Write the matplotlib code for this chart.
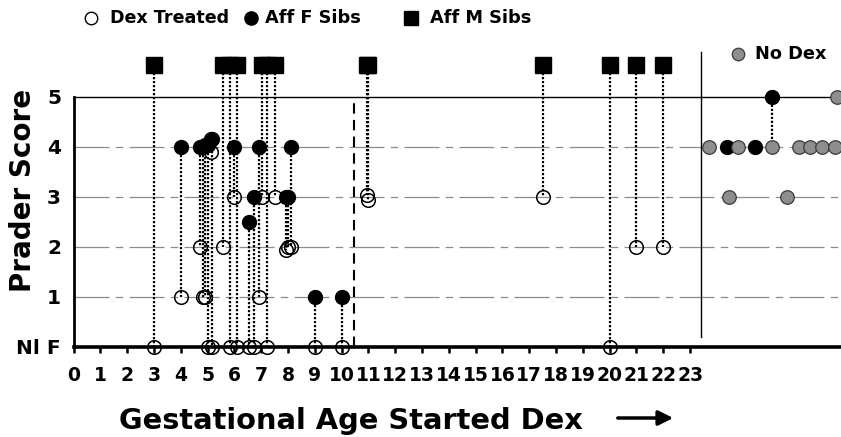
import matplotlib
matplotlib.use('Agg')
import matplotlib.pyplot as plt
from matplotlib.lines import Line2D

plt.rcParams['font.family'] = ['DejaVu Sans']
plt.rcParams['font.weight'] = 'bold'

# ---------------- data ----------------
# Dex-treated subjects paired with an affected female sib
fem_x = [4.0, 4.72, 4.82, 4.92, 5.0, 5.12, 5.17, 6.0, 6.55, 6.72, 6.93, 7.93, 8.0, 8.12, 9.0, 10.0]
fem_sib = [4, 4, 4, 4.05, 4.05, 4.15, 4.15, 4, 2.5, 3, 4, 3, 3, 4, 1, 1]
fem_dex = [1, 2, 1, 1, 0, 3.9, 0, 3, 0, 0, 1, 1.95, 2.0, 2.0, 0, 0]

# Dex-treated subjects paired with an affected male sib
male_x = [3.0, 5.57, 5.85, 6.08, 7.02, 7.2, 7.5, 10.95, 11.0, 17.5, 20.0, 21.0, 22.0]
male_dex = [0, 2, 0, 0, 3, 0, 3, 3.05, 2.95, 3, 0, 2, 2]

# No-dex (untreated) affected females and untreated affected female sibs
nodex_x = [23.72, 24.77, 26.07, 27.08, 27.48, 27.91, 28.41, 24.47, 26.6, 28.47]
nodex_y = [4, 4, 4, 4, 4, 4, 4, 3, 3, 5]
nodex_sib_x = [24.37, 25.42, 26.07]
nodex_sib_y = [4, 4, 5]
nodex_pair_x = [26.07]
nodex_pair_from = [4]
nodex_pair_to = [5]

x_ticks = list(range(24))
y_ticks = [0, 1, 2, 3, 4, 5]
y_ticklabels = ['Nl F', '1', '2', '3', '4', '5']

# ---------------- layout ----------------
W, H = 841, 437
def fx(px):
    return px / W
def fy(py):
    return 1 - py / H

fig = plt.figure(figsize=(8.41, 4.37), dpi=100)
ax = fig.add_axes([73.6 / W, fy(347), (W - 73.6) / W, (347 - 47) / H])
ax.set_xlim(0, 28.63)
ax.set_ylim(0, 6.0)

MALE_ROW = 5.65
DEX_SPLIT = 10.46
NODEX_SPLIT = 23.4

# gridlines
for yv in [1, 2, 3, 4]:
    ax.axhline(yv, color='#8c8c8c', lw=0.9, ls=(0, (28, 5, 6, 5)), zorder=1)
ax.axhline(5, color='black', lw=1.0, zorder=1)

# separators
ax.plot([DEX_SPLIT, DEX_SPLIT], [0, 5], color='black', lw=1.5, ls=(0, (5, 3)), zorder=1)
ax.plot([NODEX_SPLIT, NODEX_SPLIT], [0.2, 5.9], color='black', lw=1.0, zorder=1, clip_on=False)

dot = (0, (1, 0.8))
# dotted pair connectors
for x, a, b in zip(fem_x, fem_sib, fem_dex):
    ax.plot([x, x], [a, b], color='black', lw=1.6, ls=dot, zorder=2)
for x, b in zip(male_x, male_dex):
    ax.plot([x, x], [MALE_ROW, b], color='black', lw=1.6, ls=dot, zorder=2, clip_on=False)
for x, a, b in zip(nodex_pair_x, nodex_pair_from, nodex_pair_to):
    ax.plot([x, x], [a, b], color='black', lw=1.6, ls=dot, zorder=2)

# markers
ax.plot(male_x, [MALE_ROW] * len(male_x), 's', ms=11, color='black', zorder=5, clip_on=False)
ax.plot(fem_x, fem_sib, 'o', ms=10, color='black', zorder=5, clip_on=False)
ax.plot(fem_x, fem_dex, 'o', ms=9.8, mfc='none', mec='black', mew=1.1, zorder=4, clip_on=False)
ax.plot(male_x, male_dex, 'o', ms=9.8, mfc='none', mec='black', mew=1.1, zorder=4, clip_on=False)
ax.plot(nodex_sib_x, nodex_sib_y, 'o', ms=10, color='black', zorder=5, clip_on=False)
ax.scatter(nodex_x, nodex_y, s=95, facecolor='#8e8e8e', edgecolor='#3a3a3a', lw=0.9,
           zorder=6, clip_on=False)

# axes styling
for s in ['top', 'right']:
    ax.spines[s].set_visible(False)
ax.spines['left'].set_bounds(0, 5)
ax.spines['left'].set_linewidth(2.0)
ax.spines['bottom'].set_linewidth(2.6)
ax.spines['bottom'].set_zorder(3)

ax.set_xticks(x_ticks)
ax.set_xticklabels([str(v) for v in x_ticks], fontsize=13.5, fontweight='bold')
ax.tick_params(axis='x', direction='out', length=4, width=1.8, pad=10)
ax.set_yticks(y_ticks)
ax.set_yticklabels(y_ticklabels, fontsize=14.5, fontweight='bold')
ax.tick_params(axis='y', length=0, pad=9)

# axis titles
fig.text(fx(23), fy(190), 'Prader Score', rotation=90, ha='center', va='center',
         fontsize=20, fontweight='bold')
fig.text(fx(351), fy(421), 'Gestational Age Started Dex', ha='center', va='center',
         fontsize=20.8, fontweight='bold')
fig.add_artist(matplotlib.patches.FancyArrowPatch(
    (fx(615), fy(418)), (fx(676), fy(418)), transform=fig.transFigure,
    arrowstyle='-|>', mutation_scale=22, lw=2.5, color='black'))

# legend row
fig.add_artist(Line2D([fx(91)], [fy(18)], marker='o', ms=9, mfc='white', mec='black', mew=1.0,
                      transform=fig.transFigure))
fig.text(fx(110), fy(18), 'Dex Treated', ha='left', va='center', fontsize=12.6, fontweight='bold')
fig.add_artist(Line2D([fx(251)], [fy(18)], marker='o', ms=9.5, color='black',
                      transform=fig.transFigure))
fig.text(fx(265), fy(18), 'Aff F Sibs', ha='left', va='center', fontsize=12.8, fontweight='bold')
fig.add_artist(Line2D([fx(411)], [fy(18)], marker='s', ms=10, color='black',
                      transform=fig.transFigure))
fig.text(fx(430), fy(18), 'Aff M Sibs', ha='left', va='center', fontsize=12.8, fontweight='bold')
fig.add_artist(Line2D([fx(738)], [fy(54)], marker='o', ms=9, mfc='#8e8e8e', mec='#3a3a3a',
                      mew=0.9, transform=fig.transFigure))
fig.text(fx(755), fy(54), 'No Dex', ha='left', va='center', fontsize=12.8, fontweight='bold')

fig.savefig('out.png', dpi=100)
